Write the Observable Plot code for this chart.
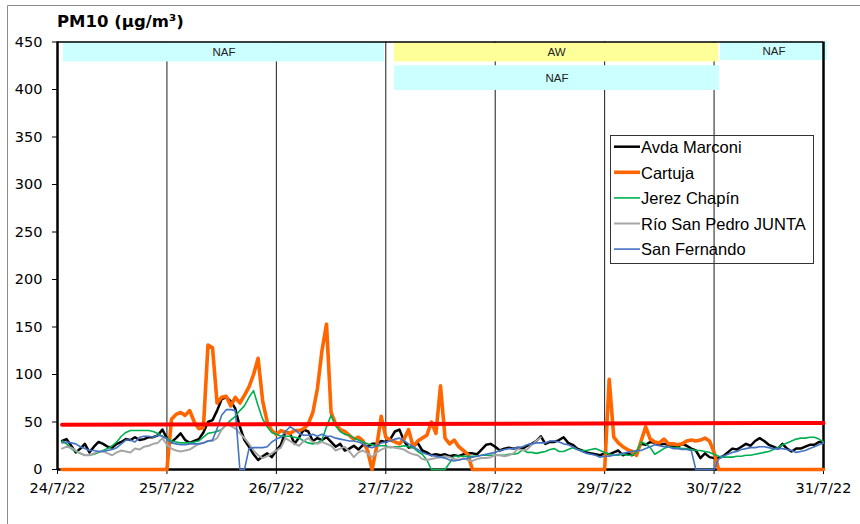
<!DOCTYPE html>
<html><head><meta charset="utf-8">
<script src="https://cdn.jsdelivr.net/npm/d3@7"></script>
<script src="https://cdn.jsdelivr.net/npm/@observablehq/plot@0.6"></script>
<style>
body{margin:0;background:#fff;}
#wrap{position:relative;width:860px;height:524px;overflow:hidden;}
#wrap svg{position:absolute;left:0;top:0;}
</style></head>
<body><div id="wrap"></div>
<script>
// ---- data (hourly values, 24/7/22 01:00 ... 31/7/22 00:00) ----
const avdaMarconi = [
 30,32,25,18,22,27,18,24,29,27,24,23,27,29,32,31,34,31,32,34,34,36,42,33,
 29,33,38,31,28,30,32,39,50,52,62,74,76,72,64,45,31,24,16,10,14,17,13,20,
 26,40,38,27,34,42,40,30,33,31,34,29,24,27,20,22,25,21,26,24,27,27,30,29,
 32,40,42,30,23,24,28,20,18,15,16,15,16,14,15,14,16,17,17,16,21,26,27,24,
 20,22,23,22,23,22,25,27,30,35,27,29,29,31,34,28,26,22,20,18,17,16,15,17,
 16,18,20,15,17,15,18,27,26,29,28,26,27,26,24,24,27,25,22,20,12,17,13,12,
 12,14,18,22,21,24,27,25,30,33,30,26,24,22,27,22,19,22,22,24,26,26,29,29];
const cartuja = [
 0,0,0,0,0,0,0,0,0,0,0,0,0,0,0,0,0,0,0,0,0,0,0,0,
 53,58,60,57,62,50,43,44,131,128,70,76,77,67,76,70,78,87,100,117,72,50,41,37,
 41,39,38,41,41,43,48,60,85,125,153,60,48,42,40,36,32,34,30,20,0,24,56,34,
 31,29,27,32,42,24,30,33,36,50,38,88,33,27,31,24,20,16,0,0,0,0,0,0,
 0,0,0,0,0,0,0,0,0,0,0,0,0,0,0,0,0,0,0,0,0,0,0,0,
 95,34,28,24,21,19,15,30,45,32,29,28,32,27,27,26,27,30,31,30,31,33,30,18,
 0,0,0,0,0,0,0,0,0,0,0,0,0,0,0,0,0,0,0,0,0,0,0,0];
const jerezChapin = [
 30,27,22,19,17,15,15,16,18,20,22,25,29,35,39,41,41,41,41,41,40,38,35,33,
 30,29,28,28,28,29,30,34,38,39,40,42,47,52,56,62,67,76,83,67,53,45,39,37,
 35,35,35,34,33,30,28,27,28,31,45,57,46,40,37,36,33,31,29,27,26,25,25,25,
 23,24,24,25,24,23,19,16,10,0,0,0,0,7,14,14,14,14,14,14,15,15,15,15,
 15,15,16,16,17,21,18,18,17,18,19,21,22,19,19,21,23,21,20,20,21,22,20,18,
 16,15,15,16,15,15,18,29,27,23,16,19,22,24,23,23,22,22,21,20,20,19,18,16,
 14,13,13,13,14,14,15,15,16,17,18,19,21,23,26,28,30,32,33,33,34,34,32,29];
const rioSanPedro = [
 22,24,23,20,17,15,15,17,19,19,17,15,18,20,19,18,22,21,24,25,27,28,33,26,
 22,20,19,20,21,24,27,28,30,30,33,42,48,46,43,38,33,27,20,15,12,14,17,20,
 23,33,30,27,25,30,33,29,27,29,27,25,20,22,24,19,13,18,20,17,13,18,21,23,
 24,23,22,21,18,16,15,11,10,11,12,13,14,13,11,10,12,10,9,11,12,12,13,15,
 15,14,15,17,22,20,21,26,30,34];
const sanFernando = [
 28,29,28,27,24,22,20,20,19,19,20,21,23,27,31,31,29,34,35,35,34,36,35,32,
 28,27,26,26,27,27,27,28,30,31,43,57,63,63,62,0,0,22,23,23,23,24,29,32,
 34,40,45,42,38,36,36,37,35,37,35,35,33,32,31,30,30,29,27,24,23,25,28,29,
 30,32,33,30,27,24,21,18,16,15,14,13,12,10,9,10,11,12,13,14,15,16,17,18,
 20,21,22,22,23,24,26,27,28,28,28,30,30,29,27,26,24,21,19,17,16,15,13,14,
 14,15,16,17,18,19,20,20,22,24,26,25,24,24,22,22,21,21,20,0,0,0,0,0,
 11,14,16,18,19,21,22,23,23,24,24,23,22,22,22,21,20,18,19,20,22,24,26,28];

const stations = ["Avda Marconi","Cartuja","Jerez Chapín","Río San Pedro JUNTA","San Fernando"];
const stationValues = [avdaMarconi, cartuja, jerezChapin, rioSanPedro, sanFernando];
const stationColors = ["#000000","#FF6600","#00B050","#A6A6A6","#4472C4"];
const stationWidths = [2.5,3.6,1.6,2,1.6];

const limitHours = [1, 168];
const limitValues = [47, 49];

const dayLabels = ["24/7/22","25/7/22","26/7/22","27/7/22","28/7/22","29/7/22","30/7/22","31/7/22"];
const yTicks = [0,50,100,150,200,250,300,350,400,450];

// episodes: [startHour, endHour, low, high, label, color]
const episodeLabels = ["NAF","AW","NAF","NAF"];
const episodeStart = [1.3, 73.9, 73.9, 145.4];
const episodeEnd = [71.7, 145, 145.2, 168.9];
const episodeLow = [429, 429, 399, 430.5];
const episodeHigh = [450, 449, 425, 450.5];
const episodeColors = ["#CCFFFF","#FFFF99","#CCFFFF","#CCFFFF"];

// ---- build ----
const t0 = Date.UTC(2022,6,24);
const hourDate = h => new Date(t0 + h*3600e3);
const dayDates = dayLabels.map((_,i)=>hourDate(24*i));
const gridDates = dayDates.slice(1,-1);
const xStart = dayDates[0], xEnd = dayDates[dayDates.length-1];

const lines = stations.map((name,si)=>{
  const pts = stationValues[si].map((v,i)=>({t:hourDate(i+1), v}));
  return Plot.line(pts, {x:"t", y:"v", stroke:stationColors[si], strokeWidth:stationWidths[si], strokeLinejoin:"round"});
});
const limit = limitHours.map((h,i)=>({t:hourDate(h), v:limitValues[i]}));
const bands = episodeLabels.map((l,i)=>({label:l, start:hourDate(episodeStart[i]), end:hourDate(episodeEnd[i]), lo:episodeLow[i], hi:episodeHigh[i], color:episodeColors[i]}));

const plot = Plot.plot({
  width:860, height:524,
  marginLeft:57, marginRight:37, marginTop:41.5, marginBottom:55,
  x:{type:"utc", domain:[xStart,xEnd], label:null},
  y:{domain:[0,450], label:null},
  color:{type:"identity"},
  style:{fontFamily:"DejaVu Sans", fontSize:"14.5px", color:"#000", background:"transparent", overflow:"visible"},
  marks:[
    Plot.ruleX(gridDates, {stroke:"#1a1a1a", strokeWidth:1}),
    Plot.rect(bands, {x1:"start", x2:"end", y1:"lo", y2:"hi", fill:"color"}),
    Plot.text(bands, {x:d=>new Date((+d.start + +d.end)/2), y:d=>(d.lo+d.hi)/2, text:"label", fontFamily:"Liberation Sans", fontSize:11.5, fill:"#222"}),
    Plot.ruleX([xStart], {stroke:"#000", strokeWidth:2.5}),
    Plot.ruleX([xEnd], {stroke:"#000", strokeWidth:2.5}),
    Plot.ruleY([450], {stroke:"#000", strokeWidth:1.5}),
    Plot.ruleY([0], {stroke:"#000", strokeWidth:2.5}),
    Plot.axisY(yTicks, {tickSize:5, tickPadding:10, label:null, fontSize:14.5}),
    Plot.axisX(dayDates, {tickSize:5, tickPadding:8, label:null, fontSize:14.5,
      tickFormat:d=>dayLabels[dayDates.findIndex(x=>+x===+d)]}),
    ...lines,
    Plot.line(limit, {x:"t", y:"v", stroke:"#FF0000", strokeWidth:4})
  ]
});
document.getElementById("wrap").appendChild(plot);

// overlay: frame, title, legend
const ov = d3.select("#wrap").append("svg").attr("width",860).attr("height",524);
ov.append("path").attr("d","M7.5,524V5.5H860").attr("fill","none").attr("stroke","#8c8c8c");
ov.append("text").attr("x",57).attr("y",27).attr("font-family","DejaVu Sans").attr("font-weight","bold").attr("font-size",16.5).text("PM10 (µg/m³)");
ov.append("rect").attr("x",610.5).attr("y",135.5).attr("width",203).attr("height",128).attr("fill","none").attr("stroke","#333");
stations.forEach((s,i)=>{
  const y = 146.7 + i*25.6;
  ov.append("line").attr("x1",614).attr("x2",640).attr("y1",y).attr("y2",y).attr("stroke",stationColors[i]).attr("stroke-width",stationWidths[i]);
  ov.append("text").attr("x",641).attr("y",y+6.2).attr("font-family","Liberation Sans").attr("font-size",16.5).text(s);
});
</script>
</body></html>
